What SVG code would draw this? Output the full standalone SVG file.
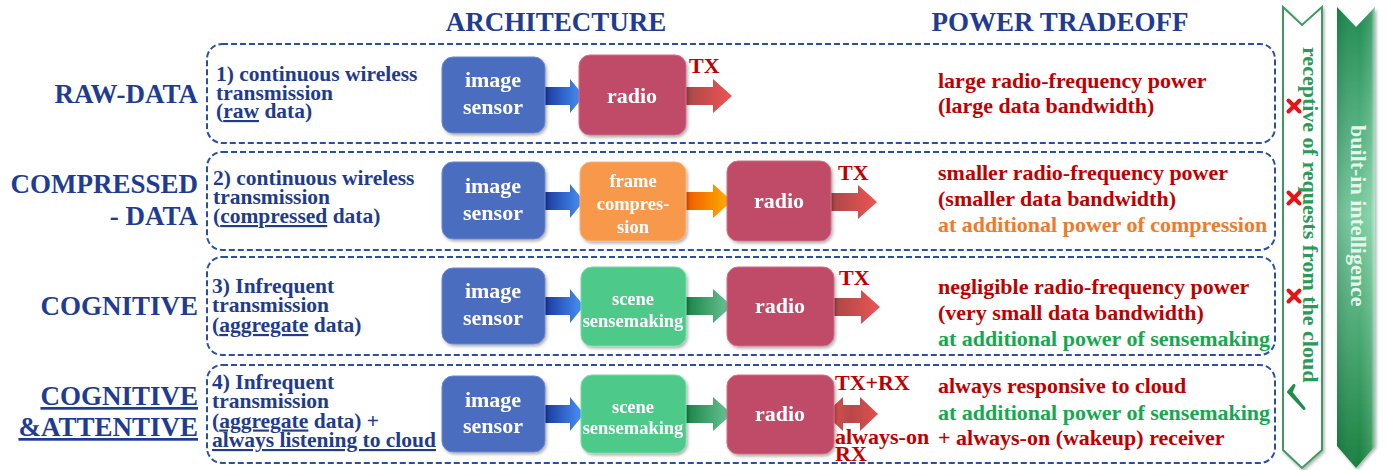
<svg xmlns="http://www.w3.org/2000/svg" width="1386" height="470" viewBox="0 0 1386 470">
  <defs>
    <style>
      .ser { font-family: "Liberation Serif", "Times New Roman", serif; font-weight: bold; }
      .head { font-size: 27px; fill: #1F3C92; text-anchor: middle; }
      .lab { font-size: 27px; fill: #1F3C92; text-anchor: end; }
      .desc { font-size: 21.5px; fill: #1F3C8C; }
      .pw { font-size: 22px; }
      .red { fill: #C00000; }
      .org { fill: #F07A28; }
      .grn { fill: #16A84E; }
      .blk { font-size: 22px; fill: #FFFFFF; text-anchor: middle; }
      .blks { font-size: 18.5px; fill: #FFFFFF; text-anchor: middle; }
      .tx { font-size: 22px; fill: #C00000; }
      .frame { fill: none; stroke: #2A50A6; stroke-width: 2; stroke-dasharray: 6 3; }
      .sensor { fill: #4C6DC0; stroke: #6A88D0; stroke-width: 1; }
      .radio { fill: #C04B68; stroke: #D07088; stroke-width: 1; }
      .comp { fill: #F7984C; stroke: #FAB27A; stroke-width: 1; }
      .scene { fill: #4EC98A; stroke: #7ADBA8; stroke-width: 1; }
      .xmark { stroke: #E81414; stroke-width: 4; stroke-linecap: round; }
      .u { text-decoration: underline; }
    </style>
    <filter id="shadow" x="-10%" y="-10%" width="125%" height="130%">
      <feDropShadow dx="1.5" dy="2" stdDeviation="1.5" flood-color="#000000" flood-opacity="0.3"/>
    </filter>
    <linearGradient id="gBlue" x1="0" y1="0" x2="1" y2="0">
      <stop offset="0" stop-color="#1A3A9E"/>
      <stop offset="1" stop-color="#4A94FA"/>
    </linearGradient>
    <linearGradient id="gRed" x1="0" y1="0" x2="1" y2="0">
      <stop offset="0" stop-color="#A84848"/>
      <stop offset="1" stop-color="#EE5454"/>
    </linearGradient>
    <linearGradient id="gRed2" x1="0" y1="0" x2="1" y2="0">
      <stop offset="0" stop-color="#E25050"/>
      <stop offset="0.5" stop-color="#B84848"/>
      <stop offset="1" stop-color="#E25050"/>
    </linearGradient>
    <linearGradient id="gOrange" x1="0" y1="0" x2="1" y2="0">
      <stop offset="0" stop-color="#F05A00"/>
      <stop offset="1" stop-color="#FFB400"/>
    </linearGradient>
    <linearGradient id="gGreen" x1="0" y1="0" x2="1" y2="0">
      <stop offset="0" stop-color="#1A8446"/>
      <stop offset="1" stop-color="#6CC79A"/>
    </linearGradient>
    <linearGradient id="gBanner" x1="0" y1="0" x2="0" y2="1">
      <stop offset="0" stop-color="#1E8A50"/>
      <stop offset="0.45" stop-color="#78CCA0"/>
      <stop offset="1" stop-color="#17803F"/>
    </linearGradient>
    <linearGradient id="gBannerSide" x1="0" y1="0" x2="1" y2="0">
      <stop offset="0" stop-color="#000000" stop-opacity="0.12"/>
      <stop offset="0.6" stop-color="#FFFFFF" stop-opacity="0"/>
      <stop offset="0.9" stop-color="#FFFFFF" stop-opacity="0.15"/>
      <stop offset="1" stop-color="#C8F5DA" stop-opacity="0.7"/>
    </linearGradient>
    <!-- single-headed block arrows, origin at the tail's centre line -->
    <path id="arrowS" d="M0,-9 H25 V-17 L39,0 L25,17 V9 H0 Z"/>
    <path id="arrowL" d="M0,-9 H27 V-17 L46,0 L27,17 V9 H0 Z"/>
  </defs>

  <rect width="1386" height="470" fill="#FFFFFF"/>

  <!-- column headings -->
  <text class="ser head" x="556" y="31">ARCHITECTURE</text>
  <text class="ser head" x="1060" y="31">POWER TRADEOFF</text>

  <!-- row labels -->
  <g id="labels" class="ser lab">
    <text x="198" y="103">RAW-DATA</text>
    <text x="198" y="193">COMPRESSED</text>
    <text x="198" y="225">- DATA</text>
    <text x="198" y="315">COGNITIVE</text>
    <text x="198" y="405" class="u">COGNITIVE</text>
    <text x="198" y="436" class="u">&amp;ATTENTIVE</text>
  </g>

  <!-- dashed row frames -->
  <g id="frames">
    <rect class="frame" x="207" y="44" width="1068" height="99" rx="15"/>
    <rect class="frame" x="207" y="152" width="1068" height="98" rx="15"/>
    <rect class="frame" x="207" y="257" width="1068" height="98" rx="15"/>
    <rect class="frame" x="207" y="365" width="1068" height="98" rx="15"/>
  </g>

  <!-- architecture descriptions -->
  <g id="descriptions" class="ser desc">
    <text x="216" y="81">1) continuous wireless</text>
    <text x="216" y="99.5">transmission</text>
    <text x="216" y="118">(<tspan class="u">raw</tspan> data)</text>

    <text x="213" y="185">2) continuous wireless</text>
    <text x="213" y="203.5">transmission</text>
    <text x="213" y="223">(<tspan class="u">compressed</tspan> data)</text>

    <text x="212" y="293">3) Infrequent</text>
    <text x="212" y="312">transmission</text>
    <text x="212" y="332">(<tspan class="u">aggregate</tspan> data)</text>

    <text x="212" y="389">4) Infrequent</text>
    <text x="212" y="408">transmission</text>
    <text x="212" y="427.5">(<tspan class="u">aggregate</tspan> data) +</text>
    <text x="212" y="447" class="u">always listening to cloud</text>
  </g>

  <!-- connectors (block arrows) -->
  <g id="connectors">
    <use href="#arrowS" x="545" y="96" fill="url(#gBlue)"/>
    <use href="#arrowL" x="686" y="96" fill="url(#gRed)"/>

    <use href="#arrowS" x="545" y="201" fill="url(#gBlue)"/>
    <use href="#arrowL" x="686" y="201" fill="url(#gOrange)"/>
    <use href="#arrowL" x="831" y="202" fill="url(#gRed)"/>

    <use href="#arrowS" x="545" y="306" fill="url(#gBlue)"/>
    <use href="#arrowL" x="686" y="306" fill="url(#gGreen)"/>
    <use href="#arrowL" x="834" y="307" fill="url(#gRed)"/>

    <use href="#arrowS" x="545" y="414" fill="url(#gBlue)"/>
    <use href="#arrowL" x="686" y="414" fill="url(#gGreen)"/>
    <path d="M825,414 L843,397 V405 H860 V397 L878,414 L860,431 V423 H843 V431 Z" fill="url(#gRed2)"/>
  </g>

  <!-- row 1: raw data -->
  <g id="sensor1" filter="url(#shadow)">
    <rect class="sensor" x="442" y="57" width="103" height="76" rx="11"/>
    <text class="ser blk" x="493" y="87">image</text>
    <text class="ser blk" x="493" y="114">sensor</text>
  </g>
  <g id="radio1" filter="url(#shadow)">
    <rect class="radio" x="579" y="55" width="107" height="80" rx="11"/>
    <text class="ser blk" x="632" y="103">radio</text>
  </g>
  <text class="ser tx" x="689" y="73">TX</text>

  <!-- row 2: compressed data -->
  <g id="sensor2" filter="url(#shadow)">
    <rect class="sensor" x="442" y="162" width="103" height="77" rx="11"/>
    <text class="ser blk" x="493" y="193">image</text>
    <text class="ser blk" x="493" y="220">sensor</text>
  </g>
  <g id="compression2" filter="url(#shadow)">
    <rect class="comp" x="580" y="162" width="106" height="79" rx="11"/>
    <text class="ser blks" x="633" y="187">frame</text>
    <text class="ser blks" x="633" y="210">compres-</text>
    <text class="ser blks" x="633" y="233">sion</text>
  </g>
  <g id="radio2" filter="url(#shadow)">
    <rect class="radio" x="727" y="161" width="104" height="80" rx="11"/>
    <text class="ser blk" x="779" y="208">radio</text>
  </g>
  <text class="ser tx" x="838" y="180">TX</text>

  <!-- row 3: cognitive -->
  <g id="sensor3" filter="url(#shadow)">
    <rect class="sensor" x="442" y="268" width="103" height="76" rx="11"/>
    <text class="ser blk" x="493" y="298">image</text>
    <text class="ser blk" x="493" y="325">sensor</text>
  </g>
  <g id="scene3" filter="url(#shadow)">
    <rect class="scene" x="581" y="267" width="105" height="79" rx="11"/>
    <text class="ser blks" x="633" y="305">scene</text>
    <text class="ser blks" x="633" y="327">sensemaking</text>
  </g>
  <g id="radio3" filter="url(#shadow)">
    <rect class="radio" x="727" y="267" width="107" height="79" rx="11"/>
    <text class="ser blk" x="780" y="313">radio</text>
  </g>
  <text class="ser tx" x="839" y="285">TX</text>

  <!-- row 4: cognitive and attentive -->
  <g id="sensor4" filter="url(#shadow)">
    <rect class="sensor" x="442" y="376" width="103" height="76" rx="11"/>
    <text class="ser blk" x="493" y="407">image</text>
    <text class="ser blk" x="493" y="433">sensor</text>
  </g>
  <g id="scene4" filter="url(#shadow)">
    <rect class="scene" x="581" y="375" width="105" height="78" rx="11"/>
    <text class="ser blks" x="633" y="413">scene</text>
    <text class="ser blks" x="633" y="434">sensemaking</text>
  </g>
  <g id="radio4" filter="url(#shadow)">
    <rect class="radio" x="727" y="375" width="107" height="79" rx="11"/>
    <text class="ser blk" x="780" y="421">radio</text>
  </g>
  <g id="radio4-labels" class="ser tx">
    <text x="835" y="390">TX+RX</text>
    <text x="835" y="444">always-on</text>
    <text x="835" y="461">RX</text>
  </g>

  <!-- power tradeoff notes -->
  <g id="tradeoffs" class="ser pw">
    <text class="red" x="938" y="88">large radio-frequency power</text>
    <text class="red" x="938" y="113">(large data bandwidth)</text>

    <text class="red" x="938" y="180">smaller radio-frequency power</text>
    <text class="red" x="938" y="206">(smaller data bandwidth)</text>
    <text class="org" x="938" y="232">at additional power of compression</text>

    <text class="red" x="938" y="294">negligible radio-frequency power</text>
    <text class="red" x="938" y="320">(very small data bandwidth)</text>
    <text class="grn" x="938" y="346">at additional power of sensemaking</text>

    <text class="red" x="938" y="393">always responsive to cloud</text>
    <text class="grn" x="938" y="420">at additional power of sensemaking</text>
    <text class="red" x="938" y="445">+ always-on (wakeup) receiver</text>
  </g>

  <!-- vertical banner: receptive of requests -->
  <g id="receptive">
    <path d="M1283,7 L1302,25 L1322,7 V450 L1302,468 L1283,450 Z" fill="#FFFFFF" stroke="#3E9A62" stroke-width="2" filter="url(#shadow)"/>
    <text class="ser" font-size="22" fill="#2A9A58" transform="translate(1303,47) rotate(90)">receptive of requests from the cloud</text>
    <line class="xmark" x1="1288.5" y1="100.5" x2="1299.5" y2="111.5"/>
    <line class="xmark" x1="1299.5" y1="100.5" x2="1288.5" y2="111.5"/>
    <line class="xmark" x1="1288.5" y1="192.5" x2="1299.5" y2="203.5"/>
    <line class="xmark" x1="1299.5" y1="192.5" x2="1288.5" y2="203.5"/>
    <line class="xmark" x1="1288.5" y1="290.5" x2="1299.5" y2="301.5"/>
    <line class="xmark" x1="1299.5" y1="290.5" x2="1288.5" y2="301.5"/>
    <!-- tick mark -->
    <path d="M1294,385.5 L1288.5,392 L1304,408.5 L1291,392.5 Z" fill="#1E8C4A" stroke="#1E8C4A" stroke-width="3" stroke-linejoin="round"/>
  </g>

  <!-- vertical banner: built-in intelligence -->
  <g id="intelligence">
    <path d="M1337,7 L1356,27 L1375,7 V446 L1356,468 L1337,446 Z" fill="url(#gBanner)" filter="url(#shadow)"/>
    <path d="M1337,7 L1356,27 L1375,7 V446 L1356,468 L1337,446 Z" fill="url(#gBannerSide)"/>
    <text class="ser" font-size="22" fill="#E6F7EC" transform="translate(1351,125) rotate(90)">built-in intelligence</text>
  </g>
</svg>
